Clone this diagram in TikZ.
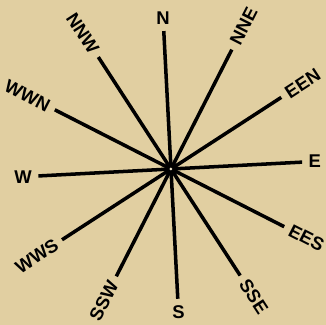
\documentclass[tikz,border=0pt]{standalone}
\usepackage{fontspec}
\newfontfamily\windfont{Liberation Sans}
\definecolor{paper}{RGB}{225,207,161}

\begin{document}
\begin{tikzpicture}[
  x=0.02cm, y=0.02cm,
  wind/.style={inner sep=3.5pt, font=\windfont\bfseries\fontsize{10.5}{11}\selectfont},
  ray/.style={line width=2pt}
]
  \fill[paper] (-171,-156) rectangle (155,169);
  \useasboundingbox (-171,-156) rectangle (155,169);

  \coordinate (c) at (0,0);
  \node[wind] (n) at (93:151) {N};
  \node[wind, rotate=63] (nne) at (63:160) {NNE};
  \node[wind, rotate=33] (een) at (33:157) {EEN};
  \node[wind] (e) at (3:144) {E};
  \node[wind, rotate=-27] (ees) at (-27:152) {EES};
  \node[wind, rotate=-57] (sse) at (-57:152) {SSE};
  \node[wind] (s) at (-87:143) {S};
  \node[wind, rotate=63] (ssw) at (-117:148) {SSW};
  \node[wind, rotate=33] (wws) at (-147:160) {WWS};
  \node[wind] (w) at (-177:148) {W};
  \node[wind, rotate=-27] (wwn) at (153:161) {WWN};
  \node[wind, rotate=-57] (nnw) at (123:162) {NNW};

  \draw[ray] (c) -- (n);
  \draw[ray] (c) -- (nne);
  \draw[ray] (c) -- (een);
  \draw[ray] (c) -- (e);
  \draw[ray] (c) -- (ees);
  \draw[ray] (c) -- (sse);
  \draw[ray] (c) -- (s);
  \draw[ray] (c) -- (ssw);
  \draw[ray] (c) -- (wws);
  \draw[ray] (c) -- (w);
  \draw[ray] (c) -- (wwn);
  \draw[ray] (c) -- (nnw);

  \fill[black] (c) circle (4);
  \fill[paper!60!white] (c) circle (1.5);

\end{tikzpicture}
\end{document}
